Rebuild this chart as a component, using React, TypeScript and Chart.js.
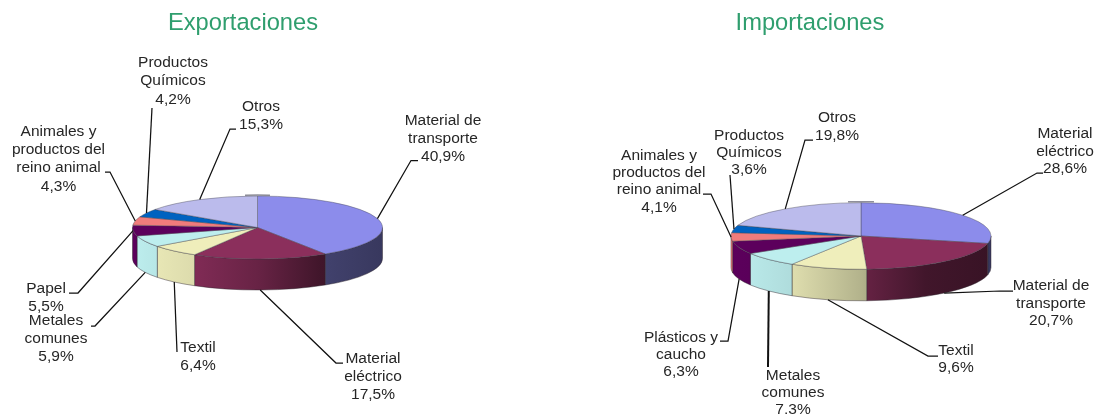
import React, { useEffect, useRef } from "react";
import { Chart, registerables } from "chart.js";

Chart.register(...registerables);

// ---- data ----
const exportCategories = [
  ["Material de", "transporte"],
  ["Material", "eléctrico"],
  ["Textil"],
  ["Metales", "comunes"],
  ["Papel"],
  ["Animales y", "productos del", "reino animal"],
  ["Productos", "Químicos"],
  ["Otros"],
];
const exportValues = [40.9, 17.5, 6.4, 5.9, 5.5, 4.3, 4.2, 15.3];

const importCategories = [
  ["Material", "eléctrico"],
  ["Material de", "transporte"],
  ["Textil"],
  ["Metales", "comunes"],
  ["Plásticos y", "caucho"],
  ["Animales y", "productos del", "reino animal"],
  ["Productos", "Químicos"],
  ["Otros"],
];
const importValues = [28.6, 20.7, 9.6, 7.3, 6.3, 4.1, 3.6, 19.8];

const exportColors = ["#8c8ceb", "#8b2f5c", "#efeebb", "#bdeeee", "#5c005c", "#f07c7c", "#0062c0", "#bbbbec"];
const importColors = exportColors;

// ---- layout (page pixels) ----
type Callout = { cx: number; ys: number[]; path: number[][]; width?: number };

const exportCallouts: Callout[] = [
  { cx: 443, ys: [120, 138, 156], path: [[411, 160.5], [418, 160.5]] },
  { cx: 373, ys: [358, 376, 394], path: [[336, 363], [343, 363]] },
  { cx: 198, ys: [347, 365], path: [[177, 352]] },
  { cx: 56, ys: [320, 338, 356], path: [[95, 326], [91, 326]] },
  { cx: 46, ys: [288, 306], path: [[78, 293], [69, 293]] },
  { cx: 58.5, ys: [131, 149, 167, 186], path: [[110, 172], [105, 172]] },
  { cx: 173, ys: [62, 80, 99], path: [[152, 108]] },
  { cx: 261, ys: [106, 124], path: [[230, 129], [236, 129]] },
];
const importCallouts: Callout[] = [
  { cx: 1065, ys: [133, 151, 168], path: [[1037, 173], [1043, 173]] },
  { cx: 1051, ys: [285, 303, 320], path: [[1000, 291], [1013, 291]] },
  { cx: 956, ys: [350, 367], path: [[928, 356], [938, 356]] },
  { cx: 793, ys: [375, 392, 409], path: [[768, 367]], width: 2 },
  { cx: 681, ys: [337, 354, 371], path: [[728, 341], [720, 341]] },
  { cx: 659, ys: [155, 172, 189, 207], path: [[711, 194], [703, 194]] },
  { cx: 749, ys: [135, 152, 169], path: [[730, 175]] },
  { cx: 837, ys: [117, 135], path: [[805, 140], [813, 140]] },
];

const LABEL_FONT = '15.5px "Liberation Sans", Arial, sans-serif';
const TITLE_COLOR = "#2f9e6e";
const TEXT_COLOR = "#262626";
const shadeStops = [
  [0, 1],
  [0.25, 0.92],
  [0.5, 0.75],
  [0.75, 0.47],
  [1, 0.4],
];

function shade(hex: string, f: number) {
  const n = parseInt(hex.slice(1), 16);
  const r = Math.round(((n >> 16) & 255) * f);
  const g = Math.round(((n >> 8) & 255) * f);
  const b = Math.round((n & 255) * f);
  return `rgb(${r},${g},${b})`;
}

type PieCfg = {
  left: number;
  width: number;
  title: string;
  categories: string[][];
  values: number[];
  colors: string[];
  callouts: Callout[];
  center: [number, number];
  rx: number;
  ry: number;
  depth: number;
};

function makePlugin(cfg: PieCfg) {
  const cx = cfg.center[0] - cfg.left;
  const cy = cfg.center[1];
  const k = cfg.ry / cfg.rx;
  return {
    id: "tiltedPie",
    beforeDatasetDraw(chart: any, args: any) {
      const ctx = chart.ctx;
      const arcs = args.meta.data;
      const R = arcs[0].outerRadius;
      const x0 = arcs[0].x;
      const y0 = arcs[0].y;
      // back rim mark
      ctx.save();
      ctx.strokeStyle = "#8f8f9a";
      ctx.lineWidth = 1.5;
      ctx.beginPath();
      ctx.ellipse(cx, cy - 1, R, R * k, 0, -Math.PI / 2 - 0.1, -Math.PI / 2 + 0.1);
      ctx.stroke();
      // side walls of the visible front half
      arcs.forEach((arc: any, i: number) => {
        const a1 = Math.max(arc.startAngle, 0);
        const a2 = Math.min(arc.endAngle, Math.PI);
        if (a2 <= a1) return;
        const g = ctx.createLinearGradient(cx - R, 0, cx + R, 0);
        shadeStops.forEach(([t, f]) => g.addColorStop(t, shade(cfg.colors[i], f)));
        ctx.beginPath();
        ctx.ellipse(cx, cy, R, R * k, 0, a1, a2);
        ctx.ellipse(cx, cy + cfg.depth, R, R * k, 0, a2, a1, true);
        ctx.closePath();
        ctx.fillStyle = g;
        ctx.fill();
        ctx.strokeStyle = "rgba(45,35,45,0.45)";
        ctx.lineWidth = 1;
        ctx.stroke();
      });
      ctx.restore();
      // squash the library's own arcs to the tilted ellipse
      ctx.save();
      ctx.translate(cx, cy);
      ctx.scale(1, k);
      ctx.translate(-x0, -y0);
    },
    afterDatasetDraw(chart: any) {
      chart.ctx.restore();
    },
    afterDraw(chart: any) {
      const ctx = chart.ctx;
      const arcs = chart.getDatasetMeta(0).data;
      const labels = chart.data.labels as string[][];
      const values = chart.data.datasets[0].data as number[];
      const R = arcs[0].outerRadius;
      ctx.save();
      ctx.translate(-cfg.left, 0);
      cfg.callouts.forEach((c, i) => {
        const mid = (arcs[i].startAngle + arcs[i].endAngle) / 2;
        const sx = cfg.center[0] + R * Math.cos(mid);
        let sy = cy + R * k * Math.sin(mid);
        if (Math.sin(mid) > 0.174) sy += cfg.depth;
        ctx.beginPath();
        ctx.moveTo(sx, sy);
        c.path.forEach(([x, y]) => ctx.lineTo(x, y));
        ctx.strokeStyle = "#111";
        ctx.lineWidth = c.width ?? 1.25;
        ctx.stroke();
        const lines = [...labels[i], `${values[i].toFixed(1).replace(".", ",")}%`];
        ctx.font = LABEL_FONT;
        ctx.fillStyle = TEXT_COLOR;
        ctx.textAlign = "center";
        ctx.textBaseline = "middle";
        lines.forEach((t: string, j: number) => ctx.fillText(t, c.cx, c.ys[j] + 1));
      });
      ctx.restore();
    },
  };
}

function Pie({ cfg }: { cfg: PieCfg }) {
  const ref = useRef<HTMLCanvasElement>(null);
  useEffect(() => {
    const chart = new Chart(ref.current!, {
      type: "pie",
      data: {
        labels: cfg.categories as any,
        datasets: [
          {
            data: cfg.values,
            backgroundColor: cfg.colors,
            borderColor: "rgba(70,70,80,0.65)",
            borderWidth: 1,
            radius: cfg.rx,
            clip: false,
          } as any,
        ],
      },
      options: {
        animation: false,
        responsive: false,
        rotation: 0,
        layout: { padding: 0 },
        events: [],
        plugins: {
          legend: { display: false },
          tooltip: { enabled: false },
          title: {
            display: true,
            text: cfg.title,
            color: TITLE_COLOR,
            align: "center",
            font: { family: '"Liberation Sans", Arial, sans-serif', size: 23.7, weight: "normal" },
            padding: { top: 9, bottom: 0 },
          },
        },
      },
      plugins: [makePlugin(cfg)],
    } as any);
    return () => chart.destroy();
  }, [cfg]);
  return (
    <canvas
      ref={ref}
      width={cfg.width}
      height={414}
      style={{ position: "absolute", left: cfg.left, top: 0, width: cfg.width, height: 414 }}
    />
  );
}

const exportCfg: PieCfg = {
  left: -40,
  width: 566,
  title: "Exportaciones",
  categories: exportCategories,
  values: exportValues,
  colors: exportColors,
  callouts: exportCallouts,
  center: [257.5, 227.5],
  rx: 125,
  ry: 31.5,
  depth: 31,
};
const importCfg: PieCfg = {
  left: 524,
  width: 572,
  title: "Importaciones",
  categories: importCategories,
  values: importValues,
  colors: importColors,
  callouts: importCallouts,
  center: [861, 236],
  rx: 130,
  ry: 33.3,
  depth: 31.5,
};

export default function App() {
  return (
    <div style={{ position: "absolute", left: 0, top: 0, width: 1096, height: 414, overflow: "hidden", background: "#fff" }}>
      <Pie cfg={exportCfg} />
      <Pie cfg={importCfg} />
    </div>
  );
}
